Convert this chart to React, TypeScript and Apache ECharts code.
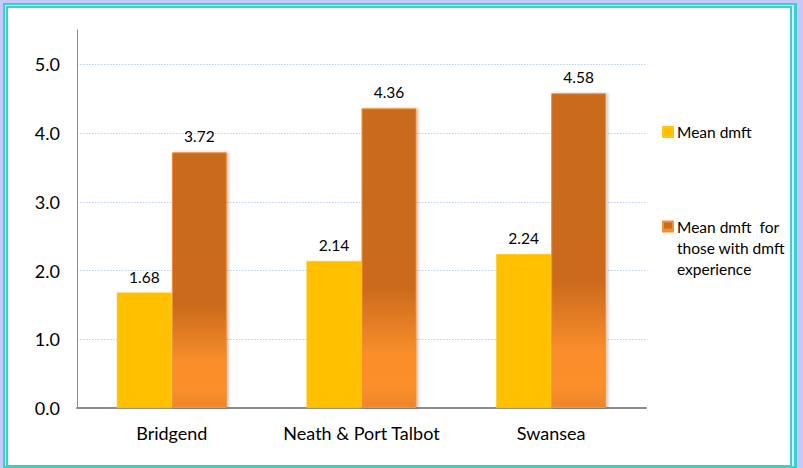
import React, { useEffect, useRef } from "react";
import * as echarts from "echarts";

const categories = ["Bridgend", "Neath & Port Talbot", "Swansea"];
const meanDmft = [1.68, 2.14, 2.24];
const meanDmftExperience = [3.72, 4.36, 4.58];
const gridValues = [1, 2, 3, 4, 5];
const seriesNames = ["Mean dmft", "Mean dmft  for those with dmft experience"];

const FONT = "Lato";

export default function App() {
  const ref = useRef<HTMLDivElement>(null);
  useEffect(() => {
    if (!ref.current) return;
    const chart = echarts.init(ref.current, undefined, { renderer: "svg" });
    const orangeGradient = new echarts.graphic.LinearGradient(0, 0, 0, 1, [
      { offset: 0, color: "#c96a1d" },
      { offset: 0.6, color: "#cb6b1d" },
      { offset: 0.82, color: "#f98e2b" },
      { offset: 0.93, color: "#fb8f2a" },
      { offset: 1, color: "#ec862a" },
    ]);
    chart.setOption({
      animation: false,
      backgroundColor: "#c8c8f8",
      textStyle: { fontFamily: FONT },
      graphic: [
        { type: "rect", z: -10, shape: { x: 3, y: 3, width: 794, height: 465 }, style: { fill: "#3ccfd2" } },
        { type: "rect", z: -9, shape: { x: 5, y: 5, width: 789, height: 461 }, style: { fill: "#d6eef6" } },
        { type: "rect", z: -8, shape: { x: 6, y: 6, width: 786, height: 461 }, style: { fill: "#3ccfd2" } },
        { type: "rect", z: -7, shape: { x: 8, y: 8, width: 782, height: 457 }, style: { fill: "#ffffff" } },
      ],
      grid: { left: 77, right: 157, top: 30, bottom: 60, containLabel: false },
      legend: [
        {
          data: [seriesNames[0]],
          orient: "vertical",
          left: 662,
          top: 124,
          padding: 0,
          itemWidth: 10,
          itemHeight: 10,
          itemGap: 4,
          icon: "rect",
          textStyle: { fontFamily: FONT, fontSize: 15.5, color: "#000", padding: [0, 0, 0, -1] },
          formatter: () => "Mean dmft",
        },
        {
          data: [seriesNames[1]],
          orient: "vertical",
          left: 662,
          top: 174,
          padding: 0,
          itemWidth: 10,
          itemHeight: 10,
          icon: "rect",
          textStyle: { fontFamily: FONT, fontSize: 15.5, color: "#000", lineHeight: 21, padding: [0, 0, 0, -1] },
          formatter: () => "\n\nMean dmft  for\nthose with dmft\nexperience",
        },
      ],
      xAxis: {
        type: "category",
        data: categories,
        axisLine: { show: true, lineStyle: { color: "#8c8c8c", width: 2 } },
        axisTick: { show: false },
        axisLabel: { fontFamily: FONT, fontSize: 18, color: "#000", margin: 16, interval: 0 },
      },
      yAxis: {
        type: "value",
        min: 0,
        max: 5.5,
        interval: 1,
        axisLine: { show: true, lineStyle: { color: "#8c8c8c", width: 1 } },
        axisTick: { show: false },
        splitLine: { show: false },
        axisLabel: {
          fontFamily: FONT,
          fontSize: 18,
          color: "#000",
          margin: 17,
          formatter: (v: number) => (Math.abs(v - Math.round(v)) < 1e-9 ? v.toFixed(1) : ""),
        },
      },
      series: [
        {
          name: seriesNames[0],
          type: "bar",
          data: meanDmft,
          barGap: "0%",
          barCategoryGap: "42%",
          itemStyle: { color: "#ffc000", borderColor: "#ffc61a", borderWidth: 0.5 },
          label: {
            show: true,
            position: "top",
            distance: 8,
            fontFamily: FONT,
            fontSize: 15.5,
            color: "#000",
            formatter: (p: any) => Number(p.value).toFixed(2),
          },
          markLine: {
            silent: true,
            symbol: "none",
            z: 0,
            label: { show: false },
            lineStyle: { type: [1.5, 1.5], color: "#bccfee", width: 1 },
            data: gridValues.map((v) => ({ yAxis: v })),
          },
        },
        {
          name: seriesNames[1],
          type: "bar",
          data: meanDmftExperience,
          barGap: "0%",
          barCategoryGap: "42%",
          itemStyle: {
            color: orangeGradient,
            borderColor: "#f0913a",
            borderWidth: 1,
            shadowColor: "rgba(0,0,0,0.22)",
            shadowBlur: 3,
            shadowOffsetX: 2,
          },
          label: {
            show: true,
            position: "top",
            distance: 8,
            fontFamily: FONT,
            fontSize: 15.5,
            color: "#000",
            formatter: (p: any) => Number(p.value).toFixed(2),
          },
        },
      ],
    });
    return () => chart.dispose();
  }, []);
  return (
    <div
      ref={ref}
      style={{ position: "fixed", left: 0, top: 0, width: 803, height: 468 }}
    />
  );
}
